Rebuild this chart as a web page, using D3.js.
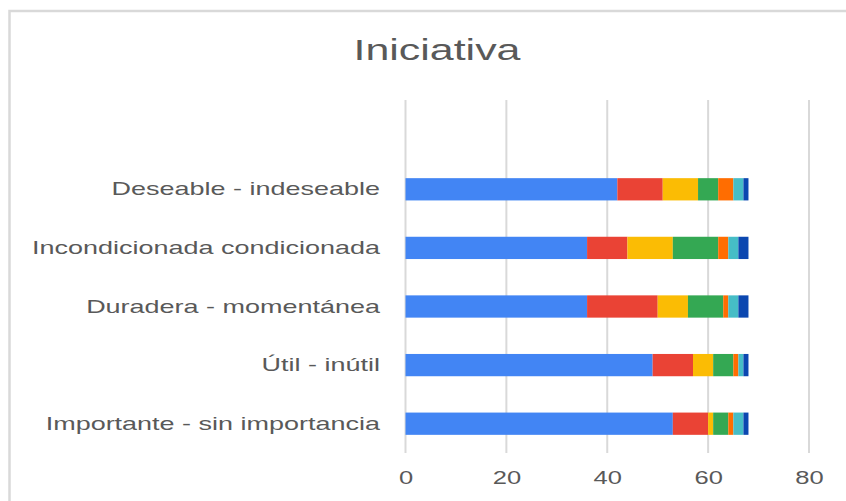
<!DOCTYPE html>
<html>
<head>
<meta charset="utf-8">
<script src="https://cdn.jsdelivr.net/npm/d3@7"></script>
<style>
  body { margin: 0; background: #fff; }
  text { font-family: "Liberation Sans", Arial, sans-serif; }
</style>
</head>
<body>
<div id="chart"></div>
<script>
// categories top to bottom
var categories = ["Deseable - indeseable", "Incondicionada condicionada", "Duradera - momentánea", "Útil - inútil", "Importante - sin importancia"];
var seriesKeys = ["s1", "s2", "s3", "s4", "s5", "s6", "s7"];
var s1 = [42, 36, 36, 49, 53];
var s2 = [9, 8, 14, 8, 7];
var s3 = [7, 9, 6, 4, 1];
var s4 = [4, 9, 7, 4, 3];
var s5 = [3, 2, 1, 1, 1];
var s6 = [2, 2, 2, 1, 2];
var s7 = [1, 2, 2, 1, 1];
var colors = ["#4285f4", "#ea4335", "#fbbc04", "#34a853", "#ff6d01", "#46bdc6", "#0b47b0"];
var xTicks = [0, 20, 40, 60, 80];

drawchart();

function drawchart() {
  var svg = d3.select("#chart")
              .append("svg")
              .attr("width", 846)
              .attr("height", 501);

  // the picture is stretched sideways, so text is widened too
  var stretch = 1.42;

  // outer frame
  svg.append("rect")
      .attr("x", 9.5).attr("y", 11)
      .attr("width", 850).attr("height", 500)
      .attr("fill", "none")
      .attr("stroke", "#d9d9d9")
      .attr("stroke-width", 2.5);

  // title
  svg.append("text")
      .attr("text-anchor", "middle")
      .attr("transform", "translate(437,60)scale(1.48,1)")
      .attr("fill", "#595959")
      .style("font-size", "29px")
      .text("Iniciativa");

  var data = categories.map(function(c, i) {
    return {cat: c, s1: s1[i], s2: s2[i], s3: s3[i], s4: s4[i], s5: s5[i], s6: s6[i], s7: s7[i]};
  });

  var x = d3.scaleLinear().domain([0, 80]).range([405.5, 809]);
  var y = d3.scaleBand().domain(categories).range([160, 453]).paddingInner(0.62).paddingOuter(0.31);

  // gridlines
  svg.append("g")
    .selectAll("line")
    .data(xTicks)
    .enter().append("line")
      .attr("x1", function(d) { return x(d); })
      .attr("x2", function(d) { return x(d); })
      .attr("y1", 100).attr("y2", 453)
      .attr("stroke", "#d9d9d9")
      .attr("stroke-width", 2);

  // x axis labels
  var xAxis = svg.append("g")
      .attr("transform", "translate(0,453)")
      .call(d3.axisBottom(x).tickValues(xTicks).tickSize(0).tickPadding(0));
  xAxis.select(".domain").remove();
  xAxis.selectAll("text")
      .attr("y", 0).attr("dy", 0)
      .attr("transform", "translate(0,31)scale(" + stretch + ",1)")
      .attr("fill", "#595959")
      .style("font-size", "18px")
      .style("font-family", "'Liberation Sans', Arial, sans-serif");

  // y axis labels
  var yAxis = svg.append("g")
      .attr("transform", "translate(380,0)")
      .call(d3.axisLeft(y).tickSize(0).tickPadding(0));
  yAxis.select(".domain").remove();
  yAxis.selectAll("text")
      .attr("transform", "scale(" + stretch + ",1)")
      .attr("fill", "#595959")
      .style("font-size", "19px")
      .style("font-family", "'Liberation Sans', Arial, sans-serif");

  // stacked bars
  var stack = d3.stack().keys(seriesKeys)(data);
  svg.append("g")
    .selectAll("g")
    .data(stack)
    .enter().append("g")
      .attr("fill", function(d, i) { return colors[i]; })
    .selectAll("rect")
    .data(function(d) { return d; })
    .enter().append("rect")
      .attr("x", function(d) { return x(d[0]); })
      .attr("y", function(d) { return y(d.data.cat); })
      .attr("width", function(d) { return x(d[1]) - x(d[0]); })
      .attr("height", y.bandwidth());
}
</script>
</body>
</html>
